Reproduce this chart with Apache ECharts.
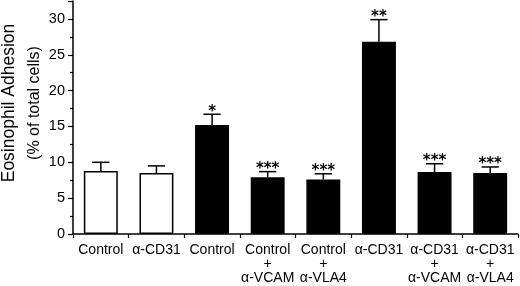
<!DOCTYPE html>
<html><head><meta charset="utf-8">
<script src="https://cdn.jsdelivr.net/npm/echarts@6/dist/echarts.min.js"></script>
<style>html,body{margin:0;padding:0;background:#fff}#c{width:520px;height:286px}</style>
</head><body><div id="c"></div>
<script>
var categories = ["Control", "α-CD31", "Control", "Control\n+\nα-VCAM", "Control\n+\nα-VLA4", "α-CD31", "α-CD31\n+\nα-VCAM", "α-CD31\n+\nα-VLA4"];
var means = [8.8, 8.5, 15.2, 7.9, 7.6, 26.8, 8.65, 8.5];
var errors = [1.2, 1.0, 1.5, 0.8, 0.8, 3.1, 1.15, 0.85];
var fills = ["#ffffff", "#ffffff", "#000000", "#000000", "#000000", "#000000", "#000000", "#000000"];
var stars = ["", "", "*", "***", "***", "**", "***", "***"];
var yTicks = [0, 5, 10, 15, 20, 25, 30];

var FONT = '"Liberation Sans", Arial, Helvetica, sans-serif';
var STARFONT = '"DejaVu Sans", sans-serif';
var chart = echarts.init(document.getElementById('c'), null, {renderer: 'canvas'});
var barData = means.map(function (v, i) {
  return {value: v, itemStyle: {color: fills[i], borderColor: '#000', borderWidth: 1.5}};
});
var errData = means.map(function (v, i) { return [i, v, errors[i]]; });

chart.setOption({
  animation: false,
  grid: {left: 73, right: 2, top: 1, bottom: 52, containLabel: false},
  xAxis: {
    type: 'category', data: categories,
    axisLine: {lineStyle: {color: '#000', width: 1.5}},
    axisTick: {show: true, length: 4, inside: false, lineStyle: {color: '#000', width: 1.2}},
    axisLabel: {color: '#000', fontFamily: FONT, fontSize: 14, lineHeight: 14, margin: 9, interval: 0, verticalAlign: 'top'}
  },
  yAxis: {
    type: 'value', min: 0, max: 32.5, interval: 5,
    splitLine: {show: false},
    axisLine: {show: true, lineStyle: {color: '#000', width: 1.5}},
    axisTick: {show: true, length: 5, lineStyle: {color: '#000', width: 1.2}},
    minorTick: {show: true, splitNumber: 2, length: 3, lineStyle: {color: '#000', width: 1.2}},
    axisLabel: {color: '#000', fontFamily: FONT, fontSize: 14.5, margin: 8,
      formatter: function (v) { return yTicks.indexOf(v) >= 0 ? String(v) : ''; }}
  },
  graphic: [
    {type: 'text', x: 9.5, y: 103, rotation: Math.PI / 2,
     style: {text: 'Eosinophil Adhesion', font: '17.5px ' + FONT, fill: '#000', textAlign: 'center', textVerticalAlign: 'middle'}},
    {type: 'text', x: 34.5, y: 103, rotation: Math.PI / 2,
     style: {text: '(% of total cells)', font: '16px ' + FONT, fill: '#000', textAlign: 'center', textVerticalAlign: 'middle'}}
  ],
  series: [
    {type: 'bar', data: barData, barWidth: '61%', z: 2},
    {type: 'custom', data: errData, z: 3,
     renderItem: function (params, api) {
       var i = api.value(0), m = api.value(1), e = api.value(2);
       var star = stars[i];
       var base = api.coord([i, m]);
       var top = api.coord([i, m + e]);
       var cw = api.size([1, 0])[0] * 0.31;
       var children = [
         {type: 'line', shape: {x1: top[0], y1: base[1], x2: top[0], y2: top[1]}, style: {stroke: '#000', lineWidth: 1.5}},
         {type: 'line', shape: {x1: top[0] - cw / 2, y1: top[1], x2: top[0] + cw / 2, y2: top[1]}, style: {stroke: '#000', lineWidth: 1.5}}
       ];
       if (star) {
         children.push({type: 'text', style: {text: star, x: top[0], y: top[1] - 2.5, textAlign: 'center', textVerticalAlign: 'middle', font: 'bold 15px ' + STARFONT, fill: '#000'}});
       }
       return {type: 'group', children: children};
     }}
  ]
});
</script></body></html>
